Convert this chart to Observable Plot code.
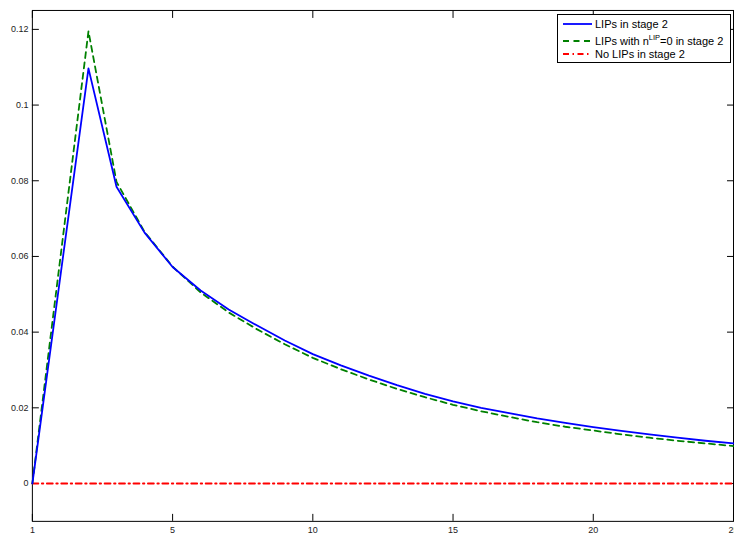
<!DOCTYPE html>
<html>
<head>
<meta charset="utf-8">
<script src="https://cdn.jsdelivr.net/npm/d3@7"></script>
<script src="https://cdn.jsdelivr.net/npm/@observablehq/plot@0.6"></script>
<style>
  html, body { margin: 0; padding: 0; background: #fff; overflow: hidden; width: 734px; height: 535px; }
  #wrap { position: relative; width: 734px; height: 535px; overflow: hidden; }
  #legend { position: absolute; left: 557px; top: 14px; width: 172px; height: 47px; border: 1px solid #000; background: #fff;
    font-family: "Liberation Sans", Arial, sans-serif; font-size: 11px; color: #000; }
  .row { position: absolute; left: 0; height: 14px; width: 172px; }
  .row svg { position: absolute; left: 5px; top: 0; }
  .row span { position: absolute; left: 37px; white-space: nowrap; }
  sup { font-size: 7.5px; vertical-align: 0; position: relative; top: -5px; }
</style>
</head>
<body>
<div id="wrap">
  <div id="chart"></div>
  <div id="legend"></div>
</div>
<script>
// x positions (axis units) and values
const xPos = [0, 2, 3, 4, 5, 6, 7, 8, 9, 10, 11, 12, 13, 14, 15, 16, 17, 18, 19, 20, 21, 22, 23, 24, 25];
const lipsStage2 = [0, 0.1097, 0.0784, 0.0663, 0.0572, 0.0510, 0.0460, 0.0418, 0.0378, 0.0342, 0.0312, 0.0285, 0.0260, 0.0237, 0.0217, 0.0200, 0.0186, 0.0172, 0.0160, 0.0149, 0.0139, 0.0130, 0.0121, 0.0113, 0.0106];
const lipsN0 = [0, 0.1195, 0.0797, 0.0665, 0.0573, 0.0505, 0.0452, 0.0408, 0.0368, 0.0332, 0.0302, 0.0275, 0.0250, 0.0228, 0.0208, 0.0191, 0.0176, 0.0162, 0.0150, 0.0140, 0.0130, 0.0121, 0.0113, 0.0106, 0.0099];
const noLips = [0, 0, 0, 0, 0, 0, 0, 0, 0, 0, 0, 0, 0, 0, 0, 0, 0, 0, 0, 0, 0, 0, 0, 0, 0];

const xTickPositions = [0, 5, 10, 15, 20, 25];
const xTickLabels = ["1", "5", "10", "15", "20", "25"];
const yTicks = [0, 0.02, 0.04, 0.06, 0.08, 0.1, 0.12];
const yTickLabels = ["0", "0.02", "0.04", "0.06", "0.08", "0.1", "0.12"];

const seriesNames = ["LIPs in stage 2", "LIPs with n^LIP=0 in stage 2", "No LIPs in stage 2"];

const rows = (vals) => xPos.map((x, i) => ({x, y: vals[i]}));
const blue = rows(lipsStage2);
const green = rows(lipsN0);
const red = rows(noLips);

const font = "Liberation Sans, Arial, sans-serif";
const xLab = d => xTickLabels[xTickPositions.indexOf(d)];
const yLab = d => yTickLabels[yTicks.indexOf(d)];

const chart = Plot.plot({
  width: 737,
  height: 535,
  marginLeft: 32,
  marginRight: 1,
  marginTop: 10,
  marginBottom: 12,
  style: {fontFamily: font, fontSize: "9px", color: "#222", background: "#fff", overflow: "visible"},
  x: {domain: [0, 25], label: null},
  y: {domain: [-0.01, 0.125], label: null},
  marks: [
    Plot.frame({stroke: "#000", strokeWidth: 1}),
    Plot.axisX(xTickPositions, {anchor: "bottom", tickSize: -7, tickFormat: () => "", label: null, stroke: "#000"}),
    Plot.axisX(xTickPositions, {anchor: "top", tickSize: -7, tickFormat: () => "", label: null, stroke: "#000"}),
    Plot.axisY(yTicks, {anchor: "left", tickSize: -7, tickFormat: () => "", label: null, stroke: "#000"}),
    Plot.axisY(yTicks, {anchor: "right", tickSize: -7, tickFormat: () => "", label: null, stroke: "#000"}),
    Plot.axisX(xTickPositions, {anchor: "bottom", tickSize: 0, tickPadding: 5, tickFormat: xLab, label: null, fill: "#222"}),
    Plot.axisY(yTicks, {anchor: "left", tickSize: 0, tickPadding: 4, tickFormat: yLab, label: null, fill: "#222"}),
    Plot.line(red, {x: "x", y: "y", stroke: "#ff0000", strokeWidth: 1.8, strokeDasharray: "6,3.5,1.5,3.5"}),
    Plot.line(green, {x: "x", y: "y", stroke: "#008000", strokeWidth: 1.8, strokeDasharray: "6,4.5"}),
    Plot.line(blue, {x: "x", y: "y", stroke: "#0000ff", strokeWidth: 1.8})
  ]
});
document.getElementById("chart").appendChild(chart);

// legend
const legend = document.getElementById("legend");
const legendItems = [
  {html: seriesNames[0], color: "#0000ff", dash: null, cy: 9},
  {html: "LIPs with n<sup>LIP</sup>=0 in stage 2", color: "#008000", dash: "6,4.5", cy: 25.5},
  {html: seriesNames[2], color: "#ff0000", dash: "6,3.5,1.5,3.5", cy: 38.5}
];
legendItems.forEach(it => {
  const row = document.createElement("div");
  row.className = "row";
  row.style.top = (it.cy - 7) + "px";
  row.innerHTML = `<svg width="30" height="14"><line x1="0" x2="29" y1="7" y2="7" stroke="${it.color}" stroke-width="1.8" ${it.dash ? `stroke-dasharray="${it.dash}"` : ""}/></svg><span style="top:0px;line-height:14px">${it.html}</span>`;
  legend.appendChild(row);
});
</script>
</body>
</html>
